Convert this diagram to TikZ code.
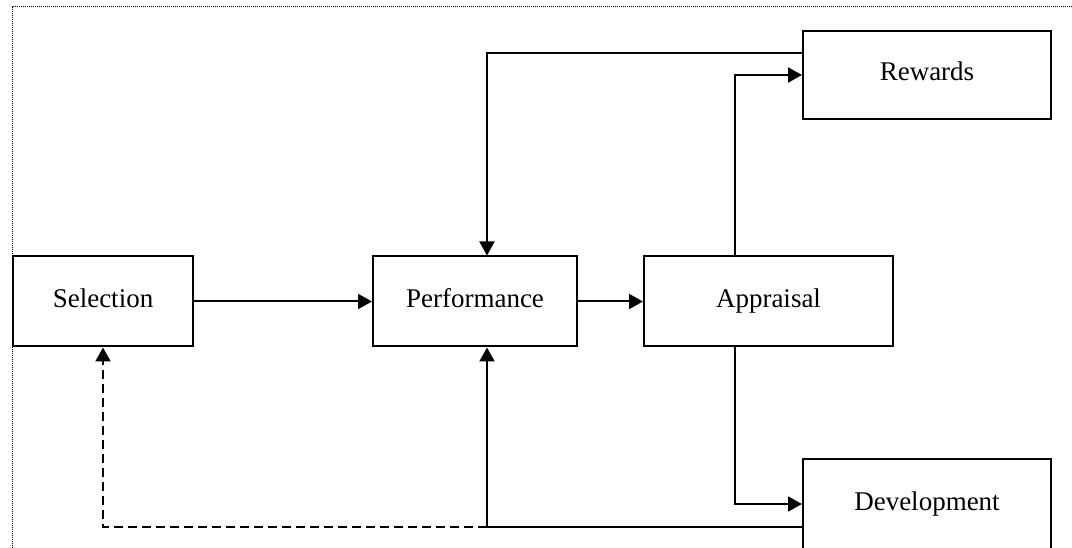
\documentclass[tikz,border=0pt]{standalone}
\usepackage{fontspec}
\setmainfont{Liberation Serif}
\usetikzlibrary{arrows.meta}

\begin{document}
\begin{tikzpicture}[x=1pt,y=-1pt]
      \useasboundingbox(0,0) rectangle (1072,548);
      \clip(0,0) rectangle (1072,548);
      \tikzset{B/.style = {shape=rectangle, draw, line width=2pt, inner sep=0pt,
        minimum height=90pt, text height=18pt, text depth=6pt,
        text=black, font=\fontsize{27}{32}\selectfont}}
      \tikzset{E/.style = {draw, line width=2pt, -{Triangle[length=14pt,width=15pt]}}}
      \draw[line width=1pt, dash pattern=on 1pt off 1pt](12,548) -- (12,7) -- (1072,7);
      \node[B,minimum width=180pt](sel) at (103,301.5) {Selection};
      \node[B,minimum width=204pt](perf) at (475,301.5) {Performance};
      \node[B,minimum width=249pt](appr) at (768.5,301.5) {Appraisal};
      \node[B,minimum width=248pt,minimum height=88pt](rew) at (927,75) {Rewards};
      \node[B,minimum width=248pt](dev) at (927,504) {Development};
      \draw[E](sel) to (perf);
      \draw[E](perf) to (appr);
      \draw[E]([yshift=22pt]rew.west) -| ([xshift=12pt]perf.north);
      \draw[E]([xshift=-33.5pt]appr.north) |- (rew.west);
      \draw[E]([xshift=-33.5pt]appr.south) |- (dev.west);
      \draw[E]([yshift=-23pt]dev.west) -| coordinate[pos=0.5](j) ([xshift=12pt]perf.south);
      \draw[E,dashed,dash pattern=on 9pt off 5pt](j) -| (sel.south);
\end{tikzpicture}
\end{document}
